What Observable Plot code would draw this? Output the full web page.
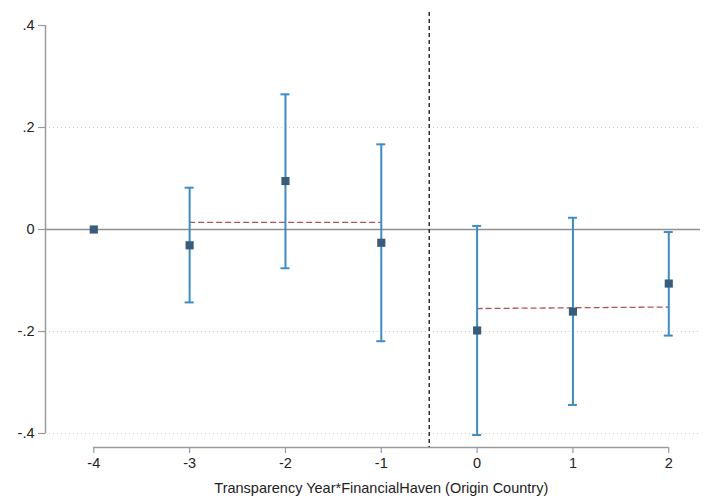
<!DOCTYPE html>
<html>
<head>
<meta charset="utf-8">
<script src="https://cdn.jsdelivr.net/npm/d3@7"></script>
<script src="https://cdn.jsdelivr.net/npm/@observablehq/plot@0.6"></script>
<style>
  html, body { margin: 0; padding: 0; background: #fff; }
  #chart svg { display: block; }
</style>
</head>
<body>
<div id="chart"></div>
<script>
// Event-time periods
const periods = [-4, -3, -2, -1, 0, 1, 2];
// Point estimates
const estimates = [0, -0.031, 0.095, -0.026, -0.198, -0.161, -0.106];
// Confidence intervals (lower / upper); reference period has none
const ciLow  = [null, -0.143, -0.076, -0.219, -0.403, -0.344, -0.208];
const ciHigh = [null,  0.082,  0.265,  0.167,  0.007,  0.023, -0.005];
// Average-effect dashed lines (pre / post)
const avgGroup = ["pre", "pre", "post", "post"];
const avgX     = [-3, -1, 0, 2];
const avgY     = [0.014, 0.014, -0.155, -0.152];
// Treatment cutoff
const cutoff = -0.5;
// Axis ticks
const yTicks = [0.4, 0.2, 0, -0.2, -0.4];
const yTickLabels = [".4", ".2", "0", "-.2", "-.4"];
const gridTicks = [0.2, -0.2, -0.4];
const xTicks = periods;
const xTitle = "Transparency Year*FinancialHaven (Origin Country)";

const pts = periods.map((p, i) => ({p, est: estimates[i], lo: ciLow[i], hi: ciHigh[i]}));
const cis = pts.filter(d => d.lo !== null);
const avg = avgX.map((x, i) => ({g: avgGroup[i], x, y: avgY[i]}));

const xDomain = [-4.504, 2.331];
const axisGray = "#9a9a9a";
const blue = "#3a8dca";
const navy = "#385d7c";
const fs = 14.5;

const chart = Plot.plot({
  width: 704,
  height: 499,
  marginLeft: 45,
  marginRight: 4,
  marginTop: 25,
  marginBottom: 66,
  style: {fontFamily: "'Liberation Sans', Arial, sans-serif", fontSize: "14px", color: "#222"},
  x: {domain: xDomain},
  y: {domain: [-0.4, 0.4]},
  marks: [
    // dotted gridlines
    Plot.ruleY(gridTicks, {stroke: "#cfcfcf", strokeDasharray: "1,3", strokeWidth: 1}),
    // zero line
    Plot.ruleY([0], {stroke: "#8f8f8f", strokeWidth: 1.6}),
    // y axis line
    Plot.ruleX([xDomain[0]], {y1: -0.4, y2: 0.4, stroke: axisGray, strokeWidth: 1.5}),
    Plot.axisY({ticks: yTicks, tickFormat: (d) => yTickLabels[yTicks.indexOf(d)], tickSize: 7, tickPadding: 4, stroke: axisGray, strokeWidth: 1.2, fontSize: fs, fill: "#222", label: null}),
    // x axis line (offset below plot)
    Plot.ruleY([-0.4], {x1: xTicks[0], x2: xTicks[xTicks.length - 1], dy: 14, stroke: axisGray, strokeWidth: 1.5}),
    Plot.axisX({ticks: xTicks, tickFormat: d => String(d), tickSize: 6, tickPadding: 4, dy: 14, stroke: axisGray, strokeWidth: 1.2, fontSize: fs, fill: "#222", label: null}),
    Plot.text([xTitle], {x: d3.mean([xTicks[0], xTicks[xTicks.length - 1]]), y: -0.4, dy: 55, text: d => d, fontSize: fs, fill: "#222", lineAnchor: "middle"}),
    // cutoff line
    Plot.ruleX([cutoff], {stroke: "#111", strokeWidth: 1.3, strokeDasharray: "4,3", insetTop: -13, insetBottom: -14}),
    // average dashed lines
    Plot.line(avg, {x: "x", y: "y", z: "g", stroke: "#b5505a", strokeWidth: 1.3, strokeDasharray: "5,4"}),
    // error bars
    Plot.ruleX(cis, {x: "p", y1: "lo", y2: "hi", stroke: blue, strokeWidth: 2}),
    Plot.ruleY(cis, {y: "hi", x1: "p", x2: "p", insetLeft: -4.5, insetRight: -4.5, stroke: blue, strokeWidth: 2}),
    Plot.ruleY(cis, {y: "lo", x1: "p", x2: "p", insetLeft: -4.5, insetRight: -4.5, stroke: blue, strokeWidth: 2}),
    // point estimates
    Plot.dot(pts, {x: "p", y: "est", symbol: "square", r: 4.6, fill: navy, stroke: "none"})
  ]
});
document.getElementById("chart").appendChild(chart);
</script>
</body>
</html>
